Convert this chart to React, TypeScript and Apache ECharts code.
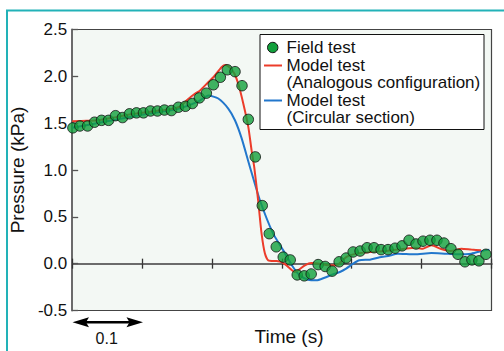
import React, { useEffect, useRef } from "react";
import * as echarts from "echarts";

// ---- Data ----
const fieldTime = [
  0.001, 0.011, 0.022, 0.032, 0.042, 0.052, 0.062, 0.072, 0.082, 0.092,
  0.102, 0.112, 0.122, 0.132, 0.142, 0.152, 0.162, 0.172, 0.182, 0.192,
  0.202, 0.212, 0.222, 0.233, 0.243, 0.252, 0.262, 0.272, 0.282, 0.292,
  0.302, 0.312, 0.322, 0.332, 0.342, 0.352, 0.362, 0.372, 0.382, 0.392,
  0.402, 0.412, 0.422, 0.432, 0.442, 0.452, 0.462, 0.472, 0.482, 0.492,
  0.502, 0.512, 0.522, 0.532, 0.542, 0.552, 0.562, 0.572, 0.582, 0.592,
];
const fieldPressure = [
  1.45, 1.47, 1.47, 1.51, 1.53, 1.53, 1.58, 1.56, 1.6, 1.61,
  1.61, 1.63, 1.63, 1.64, 1.635, 1.67, 1.68, 1.71, 1.77, 1.82,
  1.91, 1.99, 2.07, 2.05, 1.9, 1.54, 1.14, 0.62, 0.32, 0.18,
  0.07, 0.04, -0.12, -0.13, -0.11, -0.01, -0.03, -0.08, 0.02, 0.06,
  0.125, 0.135, 0.17, 0.17, 0.15, 0.15, 0.165, 0.19, 0.25, 0.21,
  0.24, 0.25, 0.25, 0.22, 0.16, 0.1, 0.02, 0.04, 0.03, 0.1,
];

const analogTime = [
  0, 0.02, 0.04, 0.06, 0.08, 0.1, 0.12, 0.14, 0.155, 0.164,
  0.176, 0.183, 0.195, 0.202, 0.214, 0.2195, 0.226, 0.232, 0.2376, 0.2448,
  0.252, 0.2567, 0.2605, 0.266, 0.271, 0.2757, 0.2805, 0.2924, 0.2995, 0.3067,
  0.3186, 0.333, 0.342, 0.354, 0.366, 0.378, 0.392, 0.407, 0.426, 0.447,
  0.476, 0.49, 0.502, 0.514, 0.528, 0.542, 0.557, 0.571, 0.585,
];
const analogPressure = [
  1.52, 1.525, 1.535, 1.56, 1.59, 1.61, 1.63, 1.65, 1.68, 1.745,
  1.816, 1.85, 1.94, 1.99, 2.1, 2.12, 2.09, 2.03, 1.92, 1.71,
  1.46, 1.21, 1.03, 0.68, 0.32, 0.11, 0.036, 0.028, 0.018, -0.018,
  -0.089, -0.018, 0.007, 0.0, -0.018, -0.018, 0.071, 0.107, 0.125, 0.135,
  0.16, 0.171, 0.16, 0.196, 0.157, 0.135, 0.16, 0.15, 0.142,
];

const circularTime = [
  0, 0.05, 0.1, 0.15, 0.18, 0.195, 0.209, 0.2233, 0.2329, 0.2424,
  0.2543, 0.2686, 0.2876, 0.302, 0.316, 0.3257, 0.3376, 0.3495, 0.361, 0.373,
  0.383, 0.392, 0.402, 0.411, 0.426, 0.4376, 0.452, 0.466, 0.49, 0.514,
  0.533, 0.552, 0.571, 0.59, 0.597,
];
const circularPressure = [
  1.45, 1.52, 1.59, 1.65, 1.73, 1.795, 1.763, 1.656, 1.531, 1.34,
  1.033, 0.677, 0.32, 0.142, -0.036, -0.125, -0.171, -0.178, -0.15, -0.114,
  -0.089, -0.053, 0.0, 0.036, 0.043, 0.064, 0.082, 0.107, 0.1, 0.114,
  0.107, 0.1, 0.107, 0.142, 0.15,
];

const legendLabels = [
  "Field test",
  "Model test\n(Analogous configuration)",
  "Model test\n(Circular section)",
];
const yAxisTitle = "Pressure (kPa)";
const xAxisTitle = "Time (s)";
const scaleBarLabel = "0.1";

const GREEN = "#12a03c";
const RED = "#ec3c2a";
const BLUE = "#2277cc";
const FONT = "'Liberation Sans', Arial, Helvetica, sans-serif";

const zip = (a: number[], b: number[]) => a.map((x, i) => [x, b[i]]);

export default function App() {
  const ref = useRef<HTMLDivElement>(null);

  useEffect(() => {
    if (!ref.current) return;
    const chart = echarts.init(ref.current, undefined, { renderer: "svg" });

    const xCommon = {
      type: "value" as const,
      min: 0,
      max: 0.6,
      interval: 0.1,
      axisTick: { show: true, inside: false, length: 5, lineStyle: { color: "#333", width: 1.3 } },
      axisLabel: { show: false },
      splitLine: { show: false },
    };
    const yCommon = {
      type: "value" as const,
      min: -0.5,
      max: 2.5,
      interval: 0.5,
      splitLine: { show: false },
    };

    chart.setOption({
      animation: false,
      backgroundColor: "#ffffff",
      grid: {
        left: 72,
        right: 12.5,
        top: 29.5,
        bottom: 40.5,
        show: true,
        backgroundColor: "#f3f8f4",
        borderColor: "#444",
        borderWidth: 1.2,
      },
      xAxis: [
        {
          ...xCommon,
          position: "bottom",
          axisLine: { show: true, onZero: true, onZeroAxisIndex: 0, lineStyle: { color: "#6b6b6b", width: 2 } },
        },
        {
          ...xCommon,
          position: "top",
          axisLine: { show: true, onZero: true, onZeroAxisIndex: 1, lineStyle: { color: "#6b6b6b", width: 2 } },
        },
      ],
      yAxis: [
        {
          ...yCommon,
          position: "left",
          name: yAxisTitle,
          nameLocation: "middle",
          nameGap: 37,
          nameTextStyle: { fontFamily: FONT, fontSize: 19, color: "#111" },
          axisLine: { show: true, onZero: false, lineStyle: { color: "#6b6b6b", width: 2 } },
          axisTick: { show: true, inside: true, length: 6, lineStyle: { color: "#555", width: 1.3 } },
          axisLabel: {
            margin: 5,
            fontFamily: FONT,
            fontSize: 17,
            color: "#111",
            formatter: (v: number) => v.toFixed(1),
          },
        },
        {
          ...yCommon,
          position: "right",
          axisLine: { show: false, onZero: false },
          axisTick: { show: false },
          axisLabel: { show: false },
        },
      ],
      series: [
        {
          name: "Model test (Circular section)",
          type: "line",
          data: zip(circularTime, circularPressure),
          showSymbol: false,
          smooth: 0.2,
          lineStyle: { color: BLUE, width: 2 },
          z: 2,
        },
        {
          name: "Model test (Analogous configuration)",
          type: "line",
          data: zip(analogTime, analogPressure),
          showSymbol: false,
          smooth: 0.2,
          lineStyle: { color: RED, width: 2 },
          z: 3,
        },
        {
          name: "Field test",
          type: "scatter",
          data: zip(fieldTime, fieldPressure),
          symbol: "circle",
          symbolSize: 10.5,
          itemStyle: { color: GREEN, borderColor: "#111", borderWidth: 1 },
          z: 4,
        },
      ],
      graphic: [
        // outer teal frame
        {
          type: "rect",
          shape: { x: 7, y: 10.5, width: 560, height: 400 },
          style: { fill: "none", stroke: "#22b2b8", lineWidth: 2 },
          silent: true,
        },
        // legend box
        {
          type: "rect",
          shape: { x: 260, y: 34.5, width: 224, height: 95 },
          style: { fill: "#ffffff", stroke: "#111", lineWidth: 1 },
          z: 100,
        },
        {
          type: "circle",
          shape: { cx: 272.7, cy: 47.5, r: 5.2 },
          style: { fill: GREEN, stroke: "#111", lineWidth: 1 },
          z: 101,
        },
        {
          type: "line",
          shape: { x1: 264, y1: 65.5, x2: 282, y2: 65.5 },
          style: { stroke: RED, lineWidth: 2 },
          z: 101,
        },
        {
          type: "line",
          shape: { x1: 264, y1: 100.5, x2: 282, y2: 100.5 },
          style: { stroke: BLUE, lineWidth: 2 },
          z: 101,
        },
        ...legendLabels.map((t, i) => ({
          type: "text",
          x: 286.5,
          y: [47.5, 73.8, 108.8][i],
          style: {
            text: t,
            font: `17px ${FONT}`,
            lineHeight: 17,
            fill: "#111",
            textAlign: "left",
            textVerticalAlign: "middle",
          },
          z: 101,
        })),
        // x axis title
        {
          type: "text",
          x: 289,
          y: 336,
          style: {
            text: xAxisTitle,
            font: `19px ${FONT}`,
            fill: "#111",
            textAlign: "center",
            textVerticalAlign: "middle",
          },
        },
        // scale bar (0.1 s)
        {
          type: "line",
          shape: { x1: 84, y1: 322.3, x2: 131, y2: 322.3 },
          style: { stroke: "#000", lineWidth: 2.5 },
        },
        {
          type: "polygon",
          shape: { points: [[72.5, 322.3], [89, 317.3], [86, 322.3], [89, 327.3]] },
          style: { fill: "#000" },
        },
        {
          type: "polygon",
          shape: { points: [[143, 322.3], [126.5, 317.3], [129.5, 322.3], [126.5, 327.3]] },
          style: { fill: "#000" },
        },
        {
          type: "text",
          x: 106.7,
          y: 338,
          style: {
            text: scaleBarLabel,
            font: `16px ${FONT}`,
            fill: "#111",
            textAlign: "center",
            textVerticalAlign: "middle",
          },
        },
      ],
    });

    return () => chart.dispose();
  }, []);

  return (
    <div
      ref={ref}
      style={{ position: "absolute", left: 0, top: 0, width: 504, height: 351, background: "#fff" }}
    />
  );
}
